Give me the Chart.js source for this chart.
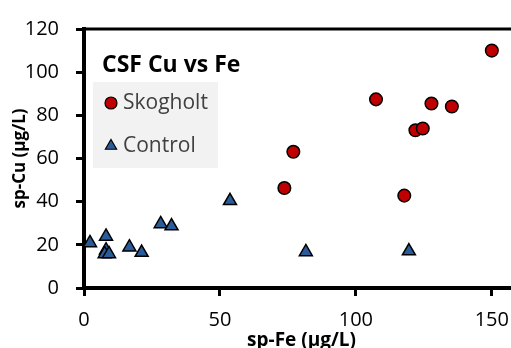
<!DOCTYPE html>
<html>
<head>
<meta charset="utf-8">
<script src="https://cdn.jsdelivr.net/npm/chart.js@4.4.0/dist/chart.umd.min.js"></script>
<style>
  html, body { margin: 0; padding: 0; overflow: hidden; background: #fff; }
  #wrap { position: absolute; left: 0; top: 0; width: 560px; height: 360px; }
</style>
</head>
<body>
<div id="wrap"><canvas id="myChart" width="560" height="360"></canvas></div>
<script>
// data
const skogholtFe = [150, 107.4, 127.8, 135.3, 121.9, 124.6, 77.0, 73.7, 117.8];
const skogholtCu = [110, 87.4, 85.5, 84.1, 73.1, 73.9, 63.1, 46.3, 42.8];
const controlFe = [2.2, 8.1, 8.1, 7.6, 9.2, 16.7, 21.2, 28.2, 32.2, 53.7, 81.6, 119.5];
const controlCu = [20.9, 23.9, 17.5, 15.8, 15.8, 18.9, 16.4, 29.7, 28.7, 40.4, 16.7, 17.1];
const xTicks = [0, 50, 100, 150];
const yTicks = [0, 20, 40, 60, 80, 100, 120];

const FONT = "'Open Sans', 'Noto Sans', sans-serif";
const RED = '#c00000';
const BLUE = '#2b5c9a';

const toPoints = (xs, ys) => xs.map((x, i) => ({ x: x, y: ys[i] }));

// top frame line + legend box drawn inside the plot
const framePlugin = {
    id: 'frame',
    afterDraw(chart) {
        const ctx = chart.ctx;
        const a = chart.chartArea;
        ctx.save();
        ctx.strokeStyle = '#000';
        ctx.lineWidth = 3;
        ctx.beginPath();
        ctx.moveTo(a.left, a.top);
        ctx.lineTo(a.right, a.top);
        ctx.lineTo(a.right, a.bottom);
        ctx.stroke();

        // legend
        const lx = a.left + 9, ly = a.top + 53;
        ctx.fillStyle = '#f2f2f2';
        ctx.fillRect(lx, ly, 125, 86);

        ctx.fillStyle = '#000';
        ctx.font = 'bold 23px ' + FONT;
        ctx.textBaseline = 'middle';
        ctx.textAlign = 'left';
        ctx.fillText('CSF Cu vs Fe', a.left + 18, a.top + 36);

        const items = [
            { text: 'Skogholt', style: 'circle', color: RED, r: 6 },
            { text: 'Control', style: 'triangle', color: BLUE, r: 6.5 }
        ];
        items.forEach((it, i) => {
            const cy = a.top + 74 + i * 43;
            ctx.fillStyle = it.color;
            ctx.strokeStyle = '#000';
            ctx.lineWidth = 1.2;
            Chart.helpers.drawPoint(ctx, { pointStyle: it.style, radius: it.r, borderWidth: 1.2, rotation: 0 }, a.left + 27, cy);
            ctx.fillStyle = '#404040';
            ctx.font = '21px ' + FONT;
            ctx.fillText(it.text, a.left + 39, cy);
        });
        ctx.restore();
    }
};

const chartRef = document.getElementById('myChart').getContext('2d');
new Chart(chartRef, {
    type: 'scatter',
    data: {
        datasets: [
            {
                label: 'Control',
                data: toPoints(controlFe, controlCu),
                pointStyle: 'triangle',
                radius: 7.5,
                backgroundColor: BLUE,
                borderColor: '#000',
                borderWidth: 1.5
            },
            {
                label: 'Skogholt',
                data: toPoints(skogholtFe, skogholtCu),
                pointStyle: 'circle',
                radius: 6.3,
                backgroundColor: RED,
                borderColor: '#000',
                borderWidth: 1.5
            }
        ]
    },
    options: {
        responsive: false,
        animation: false,
        devicePixelRatio: 1,
        layout: { padding: { top: 22, right: 41, left: 0, bottom: 0 } },
        plugins: {
            legend: { display: false },
            tooltip: { enabled: false }
        },
        scales: {
            x: {
                type: 'linear',
                min: 0,
                max: 160,
                afterBuildTicks: (s) => { s.ticks = xTicks.map(v => ({ value: v })); },
                afterFit: (s) => { s.height = 72; },
                grid: { drawOnChartArea: false, drawTicks: true, tickLength: 8, tickWidth: 3, tickColor: '#000' },
                border: { width: 4, color: '#000' },
                ticks: { font: { family: FONT, size: 20 }, color: '#000', padding: 12, maxRotation: 0, autoSkip: false },
                title: { display: true, text: 'sp-Fe (µg/L)', color: '#000', font: { family: FONT, size: 19, weight: 'bold' }, padding: { top: 0, bottom: 8.5 } }
            },
            y: {
                type: 'linear',
                min: 0,
                max: 120,
                afterBuildTicks: (s) => { s.ticks = yTicks.map(v => ({ value: v })); },
                afterFit: (s) => { s.width = 84; },
                grid: { drawOnChartArea: false, drawTicks: true, tickLength: 8, tickWidth: 3, tickColor: '#000' },
                border: { width: 4, color: '#000' },
                ticks: { font: { family: FONT, size: 20 }, color: '#000', padding: 17 },
                title: { display: true, text: 'sp-Cu (µg/L)', color: '#000', font: { family: FONT, size: 17, weight: 'bold' }, padding: { top: 10, bottom: 0 } }
            }
        }
    },
    plugins: [framePlugin]
});
</script>
</body>
</html>
